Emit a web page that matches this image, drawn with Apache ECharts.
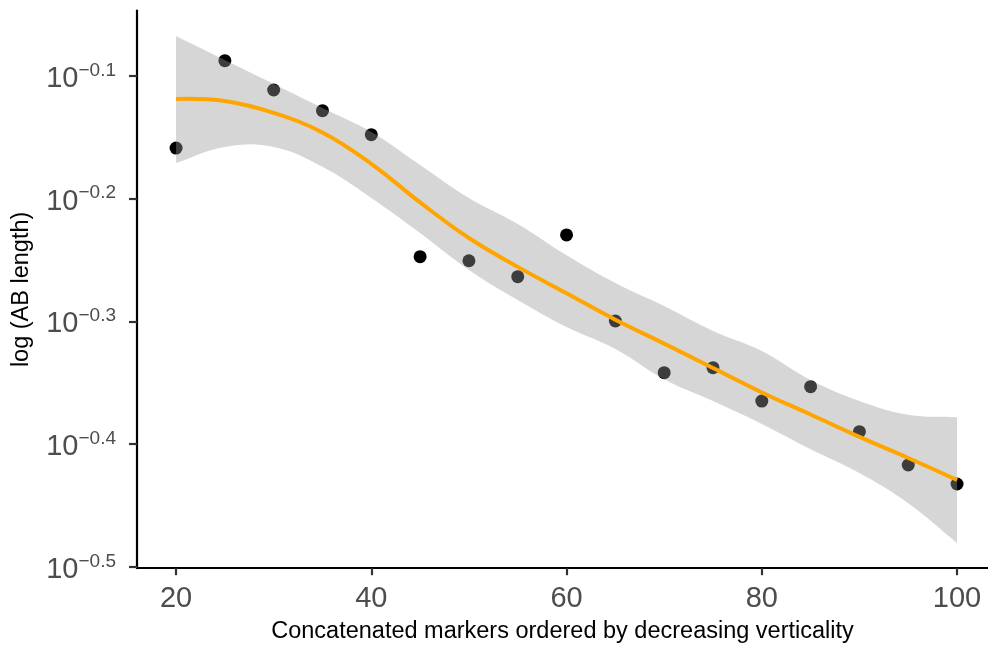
<!DOCTYPE html>
<html>
<head>
<meta charset="utf-8">
<title>AB length by verticality</title>
<script src="https://cdn.jsdelivr.net/npm/echarts@6/dist/echarts.min.js"></script>
<style>
  html, body { margin: 0; padding: 0; background: #ffffff; }
  #chart { width: 988px; height: 646px; }
</style>
</head>
<body>
<div id="chart"></div>
<script>
// Concatenated markers (x) and log10 of AB length for each
const markers = [20, 25, 30, 35, 40, 45, 50, 55, 60, 65, 70, 75, 80, 85, 90, 95, 100];
const logLength = [-0.1587, -0.0875, -0.1114, -0.1282, -0.1478, -0.2472, -0.2505, -0.2635, -0.2295,
                   -0.2996, -0.3417, -0.3376, -0.3648, -0.3531, -0.3898, -0.4169, -0.4324];

// Loess fit and its confidence band, sampled at the marker positions
const fitLog = [-0.1187, -0.1204, -0.1301, -0.1460, -0.1715, -0.2030, -0.2320, -0.2555, -0.2770,
                -0.2985, -0.3180, -0.3379, -0.3578, -0.3758, -0.3940, -0.4112, -0.4291];
const bandLow = [-0.1709, -0.1578, -0.1578, -0.1740, -0.1994, -0.2279, -0.2580, -0.2825, -0.3045,
                 -0.3224, -0.3470, -0.3648, -0.3835, -0.4040, -0.4234, -0.4480, -0.4804];
const bandHigh = [-0.0674, -0.0870, -0.1065, -0.1260, -0.1456, -0.1725, -0.1994, -0.2206, -0.2460,
                  -0.2686, -0.2874, -0.3077, -0.3240, -0.3477, -0.3648, -0.3760, -0.3780];

// Axis ticks
const xTicks = [20, 40, 60, 80, 100];
const yTicks = [-0.5, -0.4, -0.3, -0.2, -0.1];

const FONT = '"Liberation Sans", Arial, Helvetica, sans-serif';

const pairs = (xs, ys) => xs.map((x, i) => [x, ys[i]]);

// Confidence ribbon: upper edge left to right, lower edge right to left.
// Corner points are doubled so the smoothing keeps the two ends straight.
function renderBand(params, api) {
  const upper = markers.map((x, i) => api.coord([x, bandHigh[i]]));
  const lower = markers.map((x, i) => api.coord([x, bandLow[i]])).reverse();
  const n = upper.length;
  const pts = [upper[0]].concat(upper, [upper[n - 1]], [lower[0]], lower, [lower[n - 1]]);
  return {
    type: 'polygon',
    shape: { points: pts, smooth: 0.4 },
    style: { fill: 'rgba(153,153,153,0.4)', stroke: null },
    silent: true
  };
}

// Smoothed loess curve through the fitted values
function renderFit(params, api) {
  const pts = markers.map((x, i) => api.coord([x, fitLog[i]]));
  return {
    type: 'polyline',
    shape: { points: pts, smooth: 0.4 },
    style: { stroke: '#ffa500', lineWidth: 4, fill: null, lineJoin: 'round' },
    silent: true
  };
}

const chart = echarts.init(document.getElementById('chart'), null, { renderer: 'canvas' });

chart.setOption({
  animation: false,
  backgroundColor: '#ffffff',
  grid: { left: 137, right: 0, top: 10.6, bottom: 77.8, containLabel: false, outerBoundsMode: 'none' },
  xAxis: {
    type: 'value',
    min: 16,
    max: 103.17,
    name: 'Concatenated markers ordered by decreasing verticality',
    nameLocation: 'middle',
    nameGap: 51,
    nameTextStyle: { fontFamily: FONT, fontSize: 23.5, color: '#000000' },
    axisLine: { show: true, onZero: false, lineStyle: { color: '#000000', width: 2.2 } },
    axisTick: { show: true, length: 7, customValues: xTicks, lineStyle: { color: '#333333', width: 2.2 } },
    axisLabel: {
      customValues: xTicks,
      margin: 16,
      fontFamily: FONT,
      fontSize: 29,
      color: '#4d4d4d'
    },
    splitLine: { show: false }
  },
  yAxis: {
    type: 'value',
    min: -0.501,
    max: -0.0467,
    name: 'log (AB length)',
    nameLocation: 'middle',
    nameRotate: 90,
    nameGap: 103,
    nameTextStyle: { fontFamily: FONT, fontSize: 23.5, color: '#000000' },
    axisLine: { show: true, onZero: false, lineStyle: { color: '#000000', width: 2.2 } },
    axisTick: { show: true, length: 8, customValues: yTicks, lineStyle: { color: '#333333', width: 2.2 } },
    axisLabel: {
      customValues: yTicks,
      margin: 21,
      formatter: v => '{b|10}{s|\u2212' + Math.abs(v).toFixed(1) + '}',
      rich: {
        b: { fontFamily: FONT, fontSize: 29, color: '#4d4d4d', lineHeight: 30, padding: [6, 0, 0, 0] },
        s: { fontFamily: FONT, fontSize: 19, color: '#4d4d4d', lineHeight: 26, verticalAlign: 'top' }
      }
    },
    splitLine: { show: false }
  },
  series: [
    {
      name: 'markers',
      type: 'scatter',
      z: 2,
      symbol: 'circle',
      symbolSize: 13,
      itemStyle: { color: '#000000', opacity: 1 },
      data: pairs(markers, logLength)
    },
    {
      name: 'band',
      type: 'custom',
      z: 3,
      renderItem: renderBand,
      data: [[markers[0], bandLow[0]]]
    },
    {
      name: 'loess',
      type: 'custom',
      z: 4,
      renderItem: renderFit,
      data: [[markers[0], fitLog[0]]]
    }
  ]
});
</script>
</body>
</html>
